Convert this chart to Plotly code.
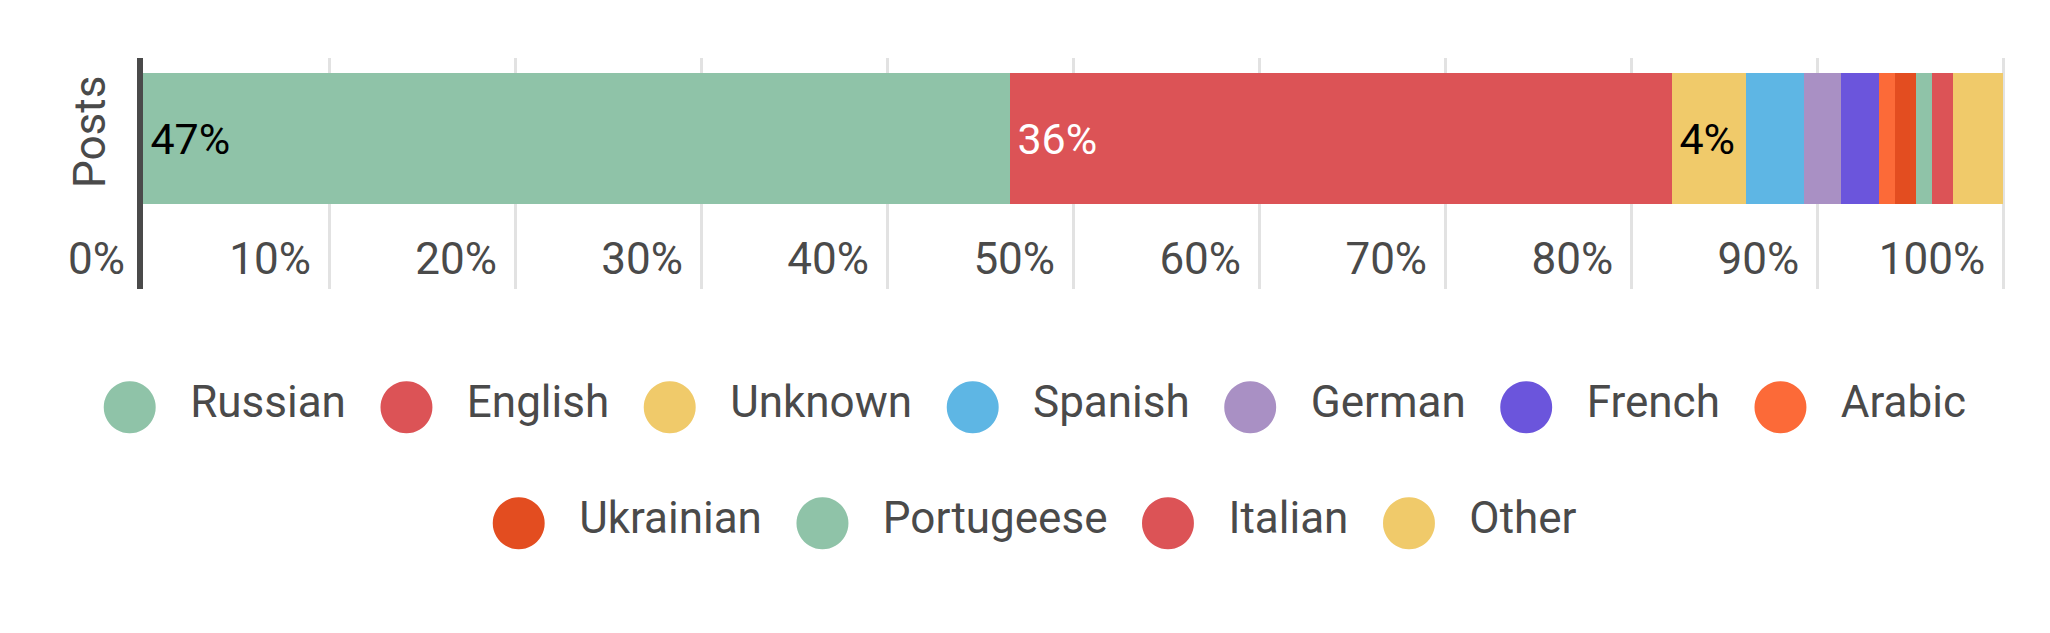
import plotly.graph_objects as go

# share of posts by language (%)
languages = ["Russian", "English", "Unknown", "Spanish", "German", "French",
             "Arabic", "Ukrainian", "Portugeese", "Italian", "Other"]
shares = [46.6, 35.6, 4.0, 3.1, 2.0, 2.0, 0.9, 1.1, 0.9, 1.1, 2.7]
bar_labels = ["47%", "36%", "4%", "", "", "", "", "", "", "", ""]
colors = ["#8fc3a8", "#dc5356", "#f0ca6a", "#5eb6e4", "#a990c4", "#6b55dc",
          "#fc6a38", "#e34d20", "#8fc3a8", "#dc5356", "#f0ca6a"]
label_colors = ["#000000", "#ffffff", "#000000", "#000000", "#000000", "#000000",
                "#000000", "#000000", "#000000", "#000000", "#000000"]
category = ["Posts"]
x_ticks = [0, 10, 20, 30, 40, 50, 60, 70, 80, 90, 100]
x_tick_text = [f"{t}%" for t in x_ticks]
first_row = 7  # legend entries on the first line

FONT = "Roboto"
GREY = "#4a4a4a"
GAP = "\u00a0\u00a0\u2009"

fig = go.Figure()

for i, lang in enumerate(languages):
    fig.add_trace(go.Bar(
        x=[shares[i]], y=category, orientation="h", name=lang,
        marker=dict(color=colors[i], line=dict(width=0)),
        text=[bar_labels[i]],
        texttemplate="\u200a%{text}" if bar_labels[i] else "",
        textposition="inside", insidetextanchor="start", constraintext="none",
        textfont=dict(color=label_colors[i], size=43, family=FONT),
        hovertemplate=lang + ": %{x}%<extra></extra>",
    ))


# legend drawn as two centred lines of text with big round swatches
def legend_line(idx):
    parts = []
    for i in idx:
        parts.append(f'<span style="color:{colors[i]};font-size:68px;'
                     f'font-family:DejaVu Sans;baseline-shift:-8px">\u25cf</span>'
                     f'{GAP}{languages[i]}')
    return GAP.join(parts)


rows = [range(0, first_row), range(first_row, len(languages))]
row_y = [-0.485, -0.991]
for idx, y in zip(rows, row_y):
    fig.add_annotation(
        text=legend_line(idx), xref="paper", yref="paper", x=0.478, y=y,
        xanchor="center", yanchor="middle", showarrow=False,
        font=dict(size=44, color=GREY, family=FONT),
    )

fig.update_layout(
    width=2050, height=633,
    barmode="stack", bargap=0, showlegend=False,
    plot_bgcolor="white", paper_bgcolor="white",
    font=dict(family=FONT, color=GREY),
    margin=dict(l=135, r=53, t=50, b=352),
    xaxis=dict(
        range=[0, 100.1], tickvals=x_ticks, ticktext=x_tick_text,
        showgrid=True, gridcolor="#e2e2e2", gridwidth=3,
        zeroline=False, showline=False, ticks="", automargin=False,
        ticklabelposition="inside left", ticklabeloverflow="allow",
        ticklabelshift=-18,
        tickfont=dict(size=44, color=GREY, family=FONT),
    ),
    yaxis=dict(
        type="category", range=[-1.147, 0.612], automargin=False,
        showgrid=False, zeroline=False,
        showline=True, linecolor=GREY, linewidth=6,
        ticks="", tickangle=-90, ticklabelstandoff=14,
        tickfont=dict(size=44, color=GREY, family=FONT),
    ),
)

fig.write_html("out.html")
